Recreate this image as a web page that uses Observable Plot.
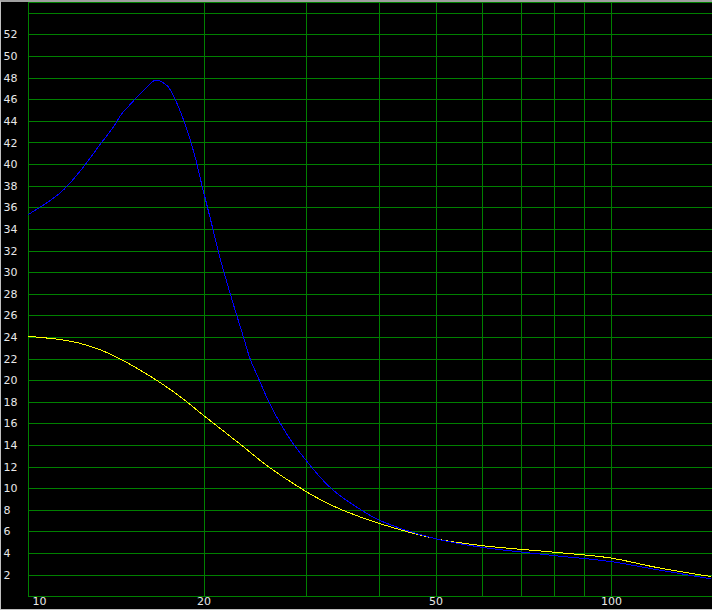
<!DOCTYPE html>
<html>
<head>
<meta charset="utf-8">
<script src="https://cdn.jsdelivr.net/npm/d3@7"></script>
<script src="https://cdn.jsdelivr.net/npm/@observablehq/plot@0.6"></script>
<style>
  html, body { margin: 0; padding: 0; background: #000; }
  #wrap { position: relative; width: 712px; height: 610px; overflow: hidden; }
  #border { position: absolute; left: 0; top: 0; width: 711px; height: 607px;
            border-top: 2px solid #a0a0a0; border-left: 1px solid #c0c0c0; border-bottom: 1px solid #c0c0c0;
            pointer-events: none; }
</style>
</head>
<body>
<div id="wrap"><div id="border"></div></div>
<script>
// Blue response (frequency, level)
const blueFreq = [10, 11.34, 12.3, 13.28, 13.99, 14.4, 14.96, 15.77, 16.51, 17.29, 17.63, 18.09, 18.45, 18.83, 19.35, 19.85, 20.5, 21.34, 22.36, 22.8, 23.38, 24.0, 24.9, 25.9, 27.06, 28.5, 29.95, 31.6, 33.1, 35.0, 40.1, 50, 59.6, 79.6, 99.4, 120, 148];
const blueVal  = [35.4, 37.4, 39.5, 41.9, 43.5, 44.6, 45.6, 46.9, 47.8, 47.3, 46.6, 45.3, 44.1, 42.7, 40.5, 38.0, 35.0, 31.2, 27.4, 25.9, 24.0, 22.0, 20.0, 17.9, 16.0, 14.1, 12.6, 11.1, 10.0, 8.98, 7.06, 5.37, 4.6, 3.82, 3.27, 2.5, 1.67];
// Yellow response
const yellowFreq = [10, 11.34, 12.27, 13.28, 14.37, 15.56, 16.84, 18.22, 20, 23.1, 25.7, 29.7, 31.9, 35, 40.1, 50, 59.6, 79.6, 99.4, 120, 148];
const yellowVal  = [24.1, 23.8, 23.45, 22.85, 22.0, 20.95, 19.8, 18.5, 16.75, 14.1, 12.1, 9.85, 8.9, 7.9, 6.76, 5.37, 4.75, 4.13, 3.6, 2.7, 1.88];
// Grid / tick values
const xGrid = [20, 30, 40, 50, 60, 70, 80, 90, 100];
const xLabels = [10, 20, 50, 100];
const yGrid = d3.range(2, 56, 2);
const yLabels = d3.range(2, 54, 2);

const blue = blueFreq.map((f, i) => ({f, v: blueVal[i]}));
const yellow = yellowFreq.map((f, i) => ({f, v: yellowVal[i]}));

const green = "#008000";
const chart = Plot.plot({
  width: 712,
  height: 610,
  marginLeft: 28,
  marginTop: 2,
  marginBottom: 14,
  marginRight: 0,
  style: {background: "#000", fontFamily: "DejaVu Sans, sans-serif", fontSize: "11px"},
  x: {type: "log", domain: [10, 150], range: [28.1, 713.6], axis: null},
  y: {domain: [0, 55], range: [596.3, 2], axis: null},
  marks: [
    Plot.ruleX(xGrid, {stroke: green, strokeWidth: 1, shapeRendering: "crispEdges"}),
    Plot.ruleY(yGrid, {stroke: green, strokeWidth: 1, shapeRendering: "crispEdges"}),
    Plot.frame({stroke: green, strokeWidth: 1, shapeRendering: "crispEdges"}),
    Plot.line(yellow, {x: "f", y: "v", stroke: "#ffff00", strokeWidth: 1, curve: "catmull-rom", shapeRendering: "crispEdges"}),
    Plot.line(blue, {x: "f", y: "v", stroke: "#0000ff", strokeWidth: 1, curve: "catmull-rom", shapeRendering: "crispEdges"}),
    Plot.text(yLabels, {y: d => d, text: d => String(d), frameAnchor: "left", dx: -25, textAnchor: "start", fill: "#e8e8e8"}),
    Plot.text(xLabels.filter(d => d !== 10), {x: d => d, text: d => String(d), frameAnchor: "bottom", dy: 8, fill: "#e8e8e8"}),
    Plot.text(xLabels.filter(d => d === 10), {x: d => d, text: d => String(d), frameAnchor: "bottom", dy: 8, dx: 4, textAnchor: "start", fill: "#e8e8e8"})
  ]
});
document.getElementById("wrap").prepend(chart);
</script>
</body>
</html>
